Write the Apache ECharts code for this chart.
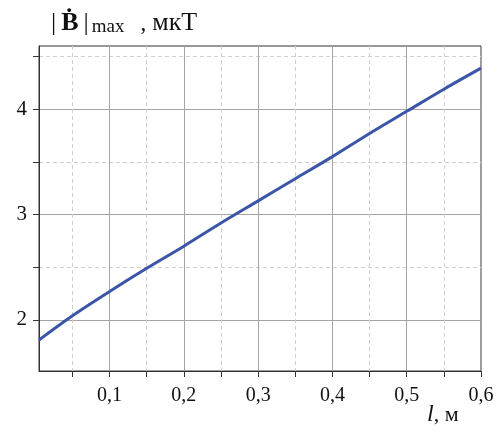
<!DOCTYPE html>
<html>
<head>
<meta charset="utf-8">
<script src="https://cdn.jsdelivr.net/npm/echarts@6/dist/echarts.min.js"></script>
<style>
    html, body { margin: 0; padding: 0; background: #fff; }
    #chart { width: 504px; height: 434px; }
</style>
</head>
<body>
<div id="chart"></div>
<script>
// l, m
const lengths = [0.005, 0.05, 0.1, 0.15, 0.2, 0.25, 0.3, 0.35, 0.4, 0.45, 0.5, 0.55, 0.6];
// |dB/dt|max, uT
const fieldMax = [1.81, 2.04, 2.27, 2.49, 2.7, 2.92, 3.13, 3.34, 3.55, 3.77, 3.98, 4.19, 4.39];
const xTicks = [0.1, 0.2, 0.3, 0.4, 0.5, 0.6];
const yTicks = [2, 3, 4];

const serif = '"Liberation Serif", "DejaVu Serif", serif';
const axisColor = '#333';

const chart = echarts.init(document.getElementById('chart'), null, { renderer: 'canvas' });

const tickStyle = {
    show: true,
    inside: false,
    length: 6,
    lineStyle: { color: axisColor, width: 1 }
};

chart.setOption({
    animation: false,
    grid: {
        left: 39,
        right: 23,
        top: 46,
        bottom: 63,
        show: true,
        borderColor: axisColor,
        borderWidth: 1
    },
    xAxis: {
        type: 'value',
        min: 0.005,
        max: 0.6,
        minInterval: 0.1,
        maxInterval: 0.1,
        axisLine: { show: true, lineStyle: { color: axisColor, width: 1 } },
        axisTick: Object.assign({ customValues: xTicks }, tickStyle),
        minorTick: { show: true, splitNumber: 2, length: 6, lineStyle: { color: axisColor, width: 1 } },
        axisLabel: {
            customValues: xTicks,
            margin: 15,
            color: '#111',
            fontFamily: serif,
            fontSize: 20,
            formatter: v => String(v).replace('.', ',')
        },
        splitLine: { show: true, lineStyle: { color: '#a4a4a4', width: 1 } },
        minorSplitLine: { show: true, lineStyle: { color: '#cfcfcf', width: 1, type: [4, 3] } }
    },
    yAxis: {
        type: 'value',
        min: 1.515,
        max: 4.6,
        splitNumber: 3,
        minInterval: 1,
        maxInterval: 1,
        axisLine: { show: true, lineStyle: { color: axisColor, width: 1 } },
        axisTick: Object.assign({ customValues: yTicks }, tickStyle),
        minorTick: { show: true, splitNumber: 2, length: 6, lineStyle: { color: axisColor, width: 1 } },
        axisLabel: {
            customValues: yTicks,
            margin: 12,
            color: '#111',
            fontFamily: serif,
            fontSize: 21
        },
        splitLine: { show: true, lineStyle: { color: '#a4a4a4', width: 1 } },
        minorSplitLine: { show: true, lineStyle: { color: '#cfcfcf', width: 1, type: [4, 3] } }
    },
    series: [{
        type: 'line',
        data: lengths.map((l, i) => [l, fieldMax[i]]),
        showSymbol: false,
        smooth: 0.3,
        lineStyle: { color: '#3b55a8', width: 3 }
    }],
    graphic: [{
        type: 'text',
        left: 48,
        top: 10,
        style: {
            text: '{n||}{b|\u1E02}{n||}{s|max}{c|,}{u|мкТ}',
            fill: '#111',
            rich: {
                n: { fontFamily: serif, fontSize: 26, lineHeight: 30, padding: [0, 3, 0, 3] },
                b: { fontFamily: serif, fontSize: 26, fontWeight: 'bold', lineHeight: 30, padding: [0, 2, 0, 2] },
                s: { fontFamily: serif, fontSize: 19, lineHeight: 30, padding: [8, 0, 0, 0] },
                c: { fontFamily: serif, fontSize: 23, lineHeight: 30, padding: [0, 6, 0, 16] },
                u: { fontFamily: serif, fontSize: 26, lineHeight: 30 }
            }
        }
    }, {
        type: 'text',
        left: 427,
        top: 403,
        style: {
            text: '{i|l}{n|, м}',
            fill: '#111',
            rich: {
                i: { fontFamily: serif, fontSize: 24, fontStyle: 'italic' },
                n: { fontFamily: serif, fontSize: 22 }
            }
        }
    }]
});
</script>
</body>
</html>
